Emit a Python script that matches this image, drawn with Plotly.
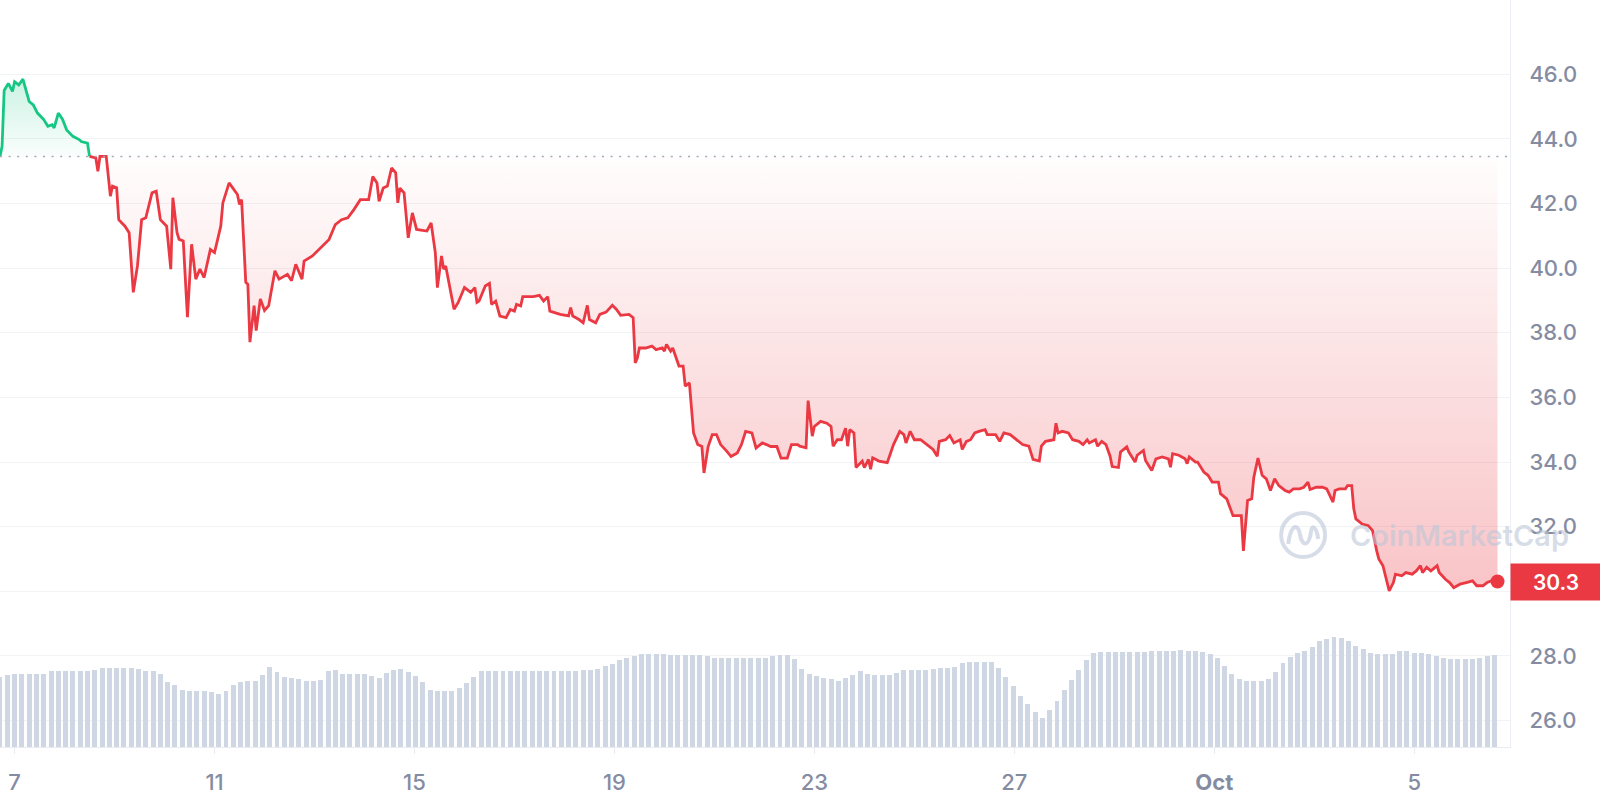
import pandas as pd
import plotly.graph_objects as go

START = "2024-09-06 17:00"

PRICE_HOURS = [
    0, 1, 2, 4, 6, 7, 9, 11, 14, 16, 18, 21, 23, 25, 26, 28, 30, 32, 35, 38,
    39, 42, 43, 46, 47, 48, 51, 53, 54, 56, 57, 60, 62, 64, 66, 68, 70, 73, 75, 77,
    80, 82, 83, 85, 86, 88, 90, 92, 94, 96, 98, 101, 103, 105, 106, 107, 110, 114, 115, 116,
    118, 119, 120, 122, 123, 125, 127, 129, 132, 134, 138, 140, 142, 145, 146, 150, 154, 158, 161, 164,
    167, 170, 173, 177, 179, 181, 182, 184, 186, 188, 190, 191, 192, 194, 196, 198, 200, 205, 207, 209,
    210, 212, 213, 214, 218, 220, 223, 226, 228, 229,
    230, 233, 235, 236, 238, 240, 243, 245, 247, 248, 250, 251, 256, 259, 261, 263, 264, 269, 273, 274,
    275, 278, 280, 282, 283, 286, 288, 291, 294, 296, 298, 302, 304, 305, 306, 307, 310, 313, 315, 318,
    319, 320, 322, 323, 326, 328, 329, 331, 333, 335, 337, 338, 340, 342, 344, 346, 349, 351, 354, 356,
    358, 361, 363, 366, 368, 370, 373, 375, 378, 380, 383,
    384, 387, 388, 390, 391, 394, 397, 399, 400, 402, 404, 406, 407, 408, 410, 411, 414, 415, 417, 418,
    419, 422, 426, 429, 432, 434, 435, 437, 439, 442, 445, 448, 450, 451, 454, 456, 458, 461, 462, 464,
    466, 468, 470, 473, 474, 478, 480, 482, 485, 488, 491, 494, 496, 499, 500, 502, 506, 507, 508, 510,
    513, 515, 518, 520, 522, 523, 526, 527, 529, 531, 533, 534, 537,
    538, 541, 542, 545, 546, 549, 550, 553, 555, 558, 561, 562, 563, 566, 569, 570, 571, 574, 575, 578,
    580, 582, 585, 586, 589, 591, 592, 596, 597, 599, 601, 602, 604, 606, 608, 610, 612, 614, 617, 619,
    621, 624, 626, 628, 629, 632, 635, 637,
    640, 641, 643, 646, 647, 649, 650, 651, 654, 657, 659, 661, 662, 664, 666, 667, 669, 670, 673, 675,
    678, 680, 682, 683, 685, 687, 690, 691, 694, 696, 698, 701, 704, 707, 709, 712, 714, 716, 719,
]

PRICE_VALUES = [
    43.46, 43.77, 45.5, 45.72, 45.47, 45.77, 45.67, 45.85, 45.16, 45.05,
    44.8, 44.6, 44.39, 44.44, 44.34, 44.8, 44.61, 44.28, 44.08, 43.98,
    43.92, 43.87, 43.46, 43.41, 43.0, 43.46, 43.46, 42.23, 42.54, 42.49,
    41.5, 41.3, 41.1, 39.25, 40.07, 41.5, 41.56, 42.33, 42.38, 41.5,
    41.3, 39.97, 42.18, 41.1, 40.89, 40.84, 38.48, 40.74, 39.66, 39.97,
    39.71, 40.58, 40.48, 40.99, 41.3, 42.02, 42.64, 42.28, 41.97, 42.12,
    39.56, 39.5, 37.71, 38.84, 38.07, 39.05, 38.69, 38.84, 39.92, 39.66,
    39.81, 39.61, 40.12, 39.66, 40.22, 40.38, 40.64, 40.89, 41.35, 41.5,
    41.56, 41.82, 42.12, 42.12, 42.84, 42.64, 42.07, 42.48, 42.54, 43.1,
    42.95, 42.02, 42.48, 42.33, 40.94, 41.71, 41.2, 41.15, 41.4, 40.48,
    39.4, 40.38, 39.97, 40.07, 38.73, 38.94, 39.4, 39.25, 39.4, 38.94,
    38.98, 39.45, 39.53, 38.88, 38.98, 38.52, 38.47, 38.72, 38.67, 38.88,
    38.83, 39.12, 39.12, 39.16, 38.98, 39.12, 38.67, 38.57, 38.52, 38.78,
    38.52, 38.41, 38.31, 38.85, 38.41, 38.31, 38.57, 38.64, 38.85, 38.72,
    38.54, 38.57, 38.47, 37.07, 37.22, 37.53, 37.53, 37.59, 37.48, 37.53,
    37.43, 37.64, 37.43, 37.53, 36.97, 36.97, 36.35, 36.45, 34.9, 34.54,
    34.48, 33.66, 34.48, 34.85, 34.85, 34.54, 34.33, 34.17, 34.28, 34.54,
    34.95, 34.9, 34.43, 34.59, 34.54, 34.48, 34.48, 34.12, 34.12, 34.54,
    34.54,
    34.49, 34.44, 35.9, 34.8, 35.1, 35.26, 35.2, 35.1, 34.49, 34.69,
    34.69, 35.05, 34.49, 35.0, 34.9, 33.83, 34.03, 33.83, 34.08, 33.78,
    34.13, 34.03, 33.98, 34.54, 34.95, 34.85, 34.59, 34.95, 34.69, 34.69,
    34.54, 34.39, 34.18, 34.64, 34.69, 34.82, 34.59, 34.69, 34.39, 34.64,
    34.69, 34.9, 34.95, 35.0, 34.85, 34.85, 34.64, 34.9, 34.85, 34.69,
    34.54, 34.49, 34.08, 34.03, 34.49, 34.64, 34.69, 35.2, 34.9, 34.95,
    34.9, 34.69, 34.64, 34.54, 34.69, 34.59, 34.69, 34.49, 34.64, 34.54,
    34.18, 33.86, 33.83,
    34.31, 34.47, 34.31, 34.0, 34.21, 34.36, 34.05, 33.74, 34.1, 34.16,
    34.1, 33.84, 34.26, 34.21, 34.1, 33.95, 34.16, 34.0, 34.0, 33.69,
    33.59, 33.38, 33.38, 33.02, 32.86, 32.55, 32.34, 32.34, 31.25, 32.81,
    32.86, 33.53, 34.12, 33.59, 33.48, 33.12, 33.48, 33.27, 33.12, 33.07,
    33.17, 33.17, 33.22, 33.38, 33.15, 33.22, 33.22, 33.17,
    32.76, 33.12, 33.17, 33.17, 33.27, 33.27, 32.55, 32.24, 32.08, 32.03,
    31.88, 31.25, 31.0, 30.79, 30.27, 30.01, 30.27, 30.53, 30.48, 30.58,
    30.53, 30.63, 30.79, 30.58, 30.74, 30.63, 30.79, 30.58, 30.37, 30.27,
    30.11, 30.22, 30.27, 30.32, 30.17, 30.17, 30.27, 30.32, 30.3,
]

VOLUME_STEP_HOURS = 3.5
VOLUME_VALUES = [
    7.0, 7.2, 7.3, 7.3, 7.3, 7.3, 7.3, 7.6, 7.6, 7.6,
    7.6, 7.6, 7.6, 7.7, 7.9, 7.9, 7.9, 7.9, 7.9, 7.8,
    7.65, 7.6, 7.3, 6.5, 6.2, 5.7, 5.6, 5.6, 5.6, 5.5,
    5.3, 5.6, 6.2, 6.5, 6.6, 6.6, 7.2, 8.0, 7.5, 7.0,
    6.9, 6.8, 6.6, 6.6, 6.7, 7.6, 7.75, 7.3, 7.3, 7.3,
    7.3, 7.1, 6.9, 7.4, 7.7, 7.8, 7.5, 7.1, 6.5, 5.7,
    5.6, 5.6, 5.6, 5.9, 6.4, 7.0, 7.6, 7.6, 7.6, 7.6,
    7.6, 7.6, 7.6, 7.6, 7.6, 7.6, 7.6, 7.6, 7.6, 7.65,
    7.7, 7.7, 7.85, 8.1, 8.35, 8.7, 8.95, 9.15, 9.27, 9.3,
    9.3, 9.3, 9.25, 9.2, 9.2, 9.2, 9.2, 9.15, 8.95, 8.9,
    8.9, 8.87, 8.87, 8.87, 8.87, 8.9, 9.1, 9.2, 9.2, 8.8,
    7.8, 7.3, 7.1, 6.95, 6.8, 6.65, 6.9, 7.2, 7.6, 7.3,
    7.2, 7.2, 7.2, 7.4, 7.7, 7.7, 7.7, 7.7, 7.8, 7.87,
    7.87, 8.0, 8.4, 8.53, 8.53, 8.53, 8.53, 7.87, 7.0, 6.1,
    5.1, 4.3, 3.5, 2.95, 3.75, 4.6, 5.7, 6.7, 7.7, 8.7,
    9.4, 9.47, 9.47, 9.47, 9.47, 9.47, 9.47, 9.5, 9.6, 9.63,
    9.63, 9.65, 9.7, 9.6, 9.6, 9.5, 9.33, 8.9, 8.1, 7.3,
    6.77, 6.6, 6.6, 6.6, 6.8, 7.5, 8.4, 9.0, 9.4, 9.65,
    10.0, 10.6, 10.85, 10.97, 10.9, 10.6, 10.1, 9.83, 9.45, 9.3,
    9.3, 9.3, 9.6, 9.6, 9.45, 9.4, 9.3, 9.15, 8.95, 8.77,
    8.77, 8.77, 8.77, 8.9, 9.1, 9.25,
]

TICK_DATES = [
    "2024-09-07", "2024-09-11", "2024-09-15", "2024-09-19",
    "2024-09-23", "2024-09-27", "2024-10-01", "2024-10-05",
]
TICK_LABELS = ["7", "11", "15", "19", "23", "27", "<b>Oct</b>", "5"]
PRICE_TICKS = [26, 28, 30, 32, 34, 36, 38, 40, 42, 44, 46]

RED = "#ea3943"
GREEN = "#16c784"
AXIS_GRAY = "#858ca2"
FONT = "Inter"

t0 = pd.Timestamp(START)
times = t0 + pd.to_timedelta(PRICE_HOURS, unit="h")
open_price = PRICE_VALUES[0]

# first point back at / below the opening price: green before, red after
split = next(i for i in range(1, len(PRICE_VALUES)) if PRICE_VALUES[i] <= open_price)
green_t, green_p = times[: split + 1], PRICE_VALUES[: split + 1]
red_t, red_p = times[split:], PRICE_VALUES[split:]

vol_times = t0 + pd.to_timedelta(
    [i * VOLUME_STEP_HOURS for i in range(len(VOLUME_VALUES))], unit="h"
)

fig = go.Figure()

fig.add_trace(
    go.Bar(
        x=vol_times,
        y=VOLUME_VALUES,
        yaxis="y2",
        marker=dict(color="#cfd6e4", line=dict(width=0)),
        width=VOLUME_STEP_HOURS * 0.68 * 3600 * 1000,
        hoverinfo="skip",
    )
)

# green part (above open)
fig.add_trace(
    go.Scatter(
        x=[green_t[0], green_t[-1]],
        y=[open_price, open_price],
        mode="lines",
        line=dict(width=0),
        hoverinfo="skip",
    )
)
fig.add_trace(
    go.Scatter(
        x=green_t,
        y=green_p,
        mode="lines",
        line=dict(color=GREEN, width=2.8),
        fill="tonexty",
        fillgradient=dict(
            type="vertical",
            colorscale=[[0, "rgba(22,199,132,0.02)"], [1, "rgba(22,199,132,0.22)"]],
        ),
    )
)

# red part (below open)
fig.add_trace(
    go.Scatter(
        x=[red_t[0], red_t[-1]],
        y=[open_price, open_price],
        mode="lines",
        line=dict(width=0),
        hoverinfo="skip",
    )
)
fig.add_trace(
    go.Scatter(
        x=red_t,
        y=red_p,
        mode="lines",
        line=dict(color=RED, width=2.8),
        fill="tonexty",
        fillgradient=dict(
            type="vertical",
            colorscale=[[0, "rgba(234,57,67,0.30)"], [1, "rgba(234,57,67,0.01)"]],
        ),
    )
)

fig.add_trace(
    go.Scatter(
        x=[times[-1]],
        y=[PRICE_VALUES[-1]],
        mode="markers",
        marker=dict(color=RED, size=14),
        hoverinfo="skip",
    )
)

# dotted opening-price line
fig.add_shape(
    type="line",
    xref="paper", x0=0, x1=1,
    yref="y", y0=open_price, y1=open_price,
    line=dict(color="#a3a9b6", width=1.5, dash="2px,6.6px"),
)

# watermark
wm = "rgba(188,198,216,0.6)"
fig.add_shape(
    type="circle",
    xref="paper", yref="y",
    xsizemode="pixel", ysizemode="pixel",
    xanchor=0.863, yanchor=31.74,
    x0=-22, x1=22, y0=-22, y1=22,
    line=dict(color=wm, width=4),
)
fig.add_shape(
    type="path",
    xref="paper", yref="y",
    xsizemode="pixel", ysizemode="pixel",
    xanchor=0.863, yanchor=31.74,
    path="M -15 -9 C -12 12, -5 12, -3 0 C -1 -12, 6 -12, 8 4 C 9 12, 14 6, 15 -4",
    line=dict(color=wm, width=4),
)
fig.add_annotation(
    text="CoinMarketCap",
    xref="paper", x=0.8927, xanchor="left",
    yref="y", y=31.74, yanchor="middle",
    showarrow=False,
    font=dict(family=FONT, size=29, color=wm, weight=600),
)

# current price tag
fig.add_annotation(
    text=f"{PRICE_VALUES[-1]:.1f}",
    xref="paper", x=1, xanchor="left",
    yref="y", y=PRICE_VALUES[-1], yanchor="middle",
    showarrow=False,
    bgcolor=RED,
    width=80, height=26, borderpad=5, align="center",
    font=dict(family=FONT, size=21, color="white", weight=600),
)

fig.update_xaxes(
    range=[t0, t0 + pd.Timedelta(hours=725)],
    tickmode="array",
    tickvals=TICK_DATES,
    ticktext=TICK_LABELS,
    showgrid=False,
    showline=True,
    linecolor="#e8ebf0",
    ticks="outside",
    ticklen=6,
    tickcolor="#e8ebf0",
    ticklabelstandoff=10,
    tickfont=dict(family=FONT, size=22, color=AXIS_GRAY, weight=500),
    zeroline=False,
)

fig.update_yaxes(
    side="right",
    range=[25.18, 48.3],
    tickmode="array",
    tickvals=PRICE_TICKS,
    ticktext=[f"{v:.1f}" for v in PRICE_TICKS],
    showgrid=True,
    gridcolor="#f1f3f6",
    showline=True,
    linecolor="#eceff3",
    ticks="",
    ticklabelstandoff=14,
    tickfont=dict(family=FONT, size=22, color=AXIS_GRAY, weight=500),
    zeroline=False,
)

fig.update_layout(
    width=1600,
    height=800,
    yaxis2=dict(overlaying="y", range=[0, 74.7], visible=False),
    paper_bgcolor="white",
    plot_bgcolor="white",
    showlegend=False,
    bargap=0,
    margin=dict(l=0, r=90, t=0, b=53),
    font=dict(family=FONT, color=AXIS_GRAY),
)

# page body has an 8px default margin; drop it so the chart sits at the corner
fig.write_html(
    "out.html",
    config={"displayModeBar": False},
    post_script="document.body.style.margin = '0px';",
)
